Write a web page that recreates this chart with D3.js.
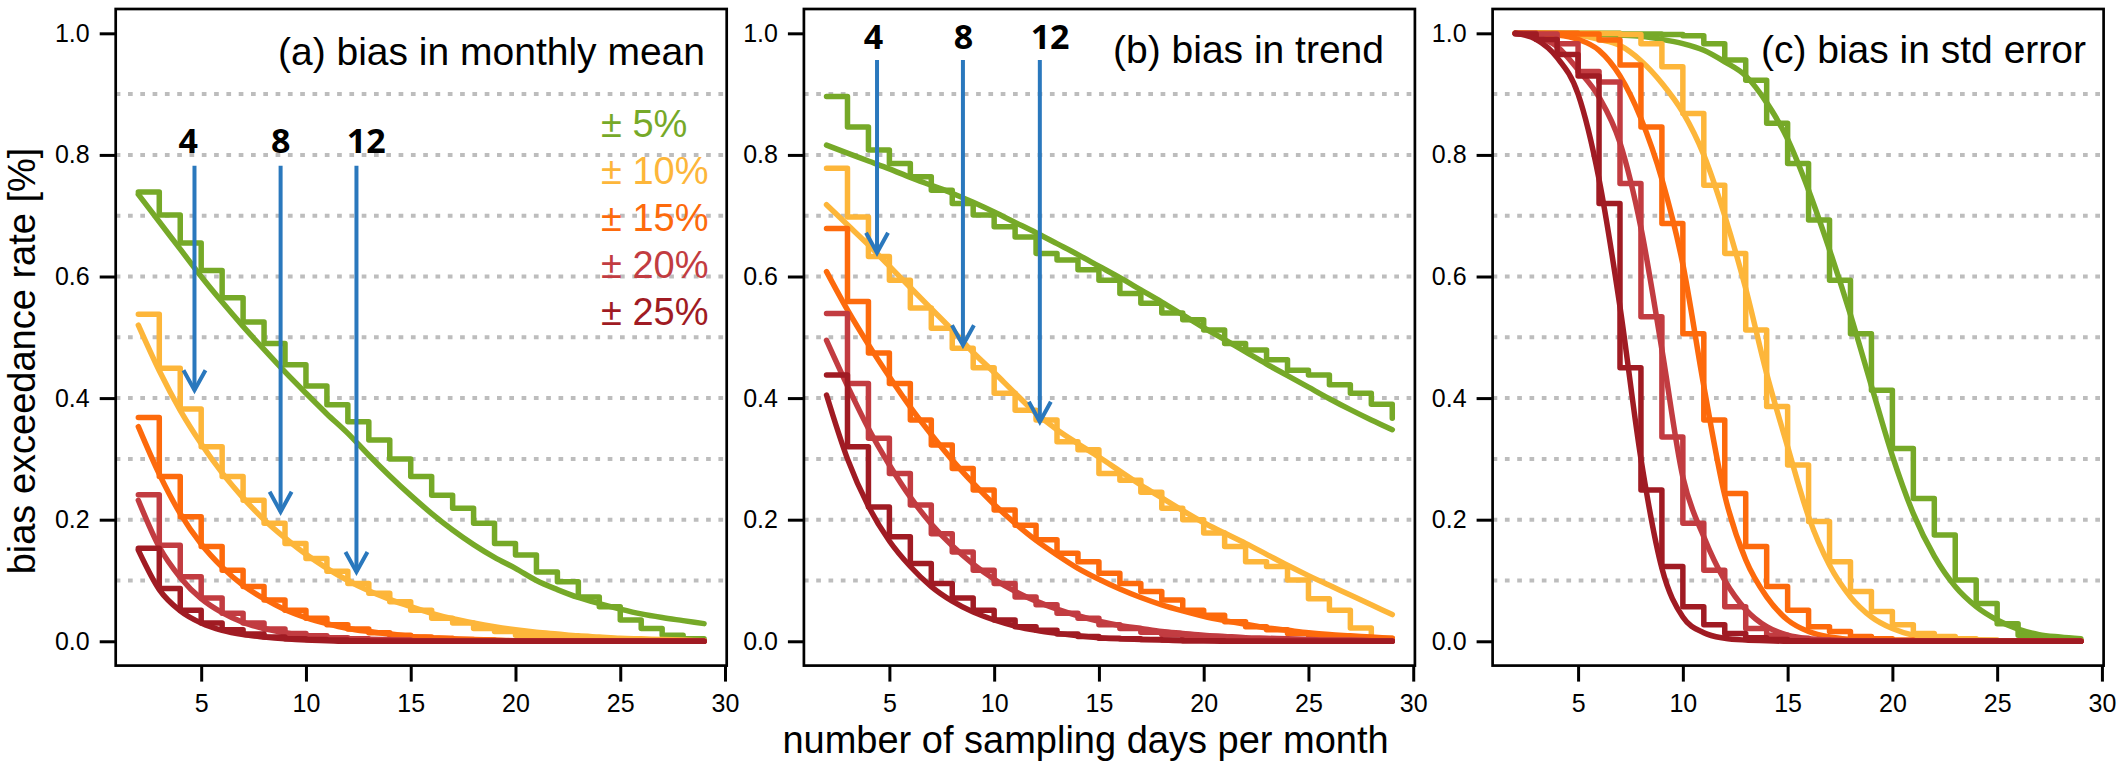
<!DOCTYPE html>
<html>
<head>
<meta charset="utf-8">
<script src="https://cdn.jsdelivr.net/npm/d3@7"></script>
<style>
  body { margin: 0; background: #fff; }
  svg { display: block; }
</style>
</head>
<body>
<svg id="chart"></svg>
<script>
// sampling days and thresholds
const days = [2, 3, 4, 5, 6, 7, 8, 9, 10, 11, 12, 13, 14, 15, 16, 17, 18, 19, 20, 21, 22, 23, 24, 25, 26, 27, 28, 29];
const bands = ['± 5%', '± 10%', '± 15%', '± 20%', '± 25%'];
const panelTitles = ['(a) bias in monthly mean', '(b) bias in trend', '(c) bias in std error'];
const yTicks = [0, 0.2, 0.4, 0.6, 0.8, 1.0];
const xTicks = [5, 10, 15, 20, 25, 30];
const gridLevels = [0.1, 0.2, 0.3, 0.4, 0.5, 0.6, 0.7, 0.8, 0.9];

// (a) monthly mean: empirical steps and fitted curves, one row per band
const meanStep = [
  [0.739, 0.701, 0.655, 0.61, 0.565, 0.525, 0.49, 0.455, 0.42, 0.389, 0.361, 0.331, 0.30, 0.271, 0.24, 0.219, 0.194, 0.161, 0.142, 0.114, 0.098, 0.073, 0.057, 0.035, 0.021, 0.010, 0.004, 0.002],
  [0.538, 0.449, 0.382, 0.320, 0.271, 0.232, 0.194, 0.161, 0.136, 0.115, 0.095, 0.079, 0.065, 0.051, 0.038, 0.030, 0.021, 0.016, 0.010, 0.007, 0.005, 0.003, 0.002, 0.001, 0.001, 0, 0, 0],
  [0.368, 0.271, 0.205, 0.156, 0.117, 0.090, 0.068, 0.051, 0.038, 0.027, 0.020, 0.014, 0.010, 0.007, 0.005, 0.003, 0.002, 0.001, 0.001, 0, 0, 0, 0, 0, 0, 0, 0, 0],
  [0.241, 0.158, 0.106, 0.071, 0.046, 0.030, 0.020, 0.013, 0.009, 0.006, 0.004, 0.003, 0.002, 0.001, 0, 0, 0, 0, 0, 0, 0, 0, 0, 0, 0, 0, 0, 0],
  [0.153, 0.087, 0.051, 0.030, 0.019, 0.012, 0.007, 0.004, 0.003, 0.002, 0.001, 0, 0, 0, 0, 0, 0, 0, 0, 0, 0, 0, 0, 0, 0, 0, 0, 0]
];
const meanFit = [
  [0.735, 0.69, 0.645, 0.60, 0.558, 0.518, 0.48, 0.443, 0.408, 0.374, 0.342, 0.306, 0.272, 0.24, 0.21, 0.183, 0.159, 0.138, 0.12, 0.10, 0.085, 0.072, 0.062, 0.053, 0.045, 0.039, 0.034, 0.029],
  [0.52, 0.445, 0.38, 0.325, 0.277, 0.236, 0.20, 0.17, 0.143, 0.12, 0.10, 0.083, 0.069, 0.057, 0.046, 0.037, 0.030, 0.024, 0.019, 0.015, 0.012, 0.009, 0.007, 0.005, 0.004, 0.003, 0.002, 0.001],
  [0.353, 0.275, 0.21, 0.16, 0.122, 0.092, 0.07, 0.052, 0.039, 0.029, 0.021, 0.016, 0.012, 0.008, 0.006, 0.004, 0.003, 0.002, 0.001, 0.001, 0.001, 0, 0, 0, 0, 0, 0, 0],
  [0.232, 0.155, 0.105, 0.07, 0.047, 0.031, 0.021, 0.014, 0.009, 0.006, 0.004, 0.003, 0.002, 0.001, 0.001, 0, 0, 0, 0, 0, 0, 0, 0, 0, 0, 0, 0, 0],
  [0.15, 0.085, 0.05, 0.03, 0.018, 0.011, 0.007, 0.004, 0.002, 0.001, 0, 0, 0, 0, 0, 0, 0, 0, 0, 0, 0, 0, 0, 0, 0, 0, 0, 0]
];

// (b) trend
const trendStep = [
  [0.896, 0.846, 0.808, 0.786, 0.764, 0.742, 0.72, 0.701, 0.682, 0.665, 0.638, 0.627, 0.611, 0.594, 0.572, 0.556, 0.54, 0.529, 0.512, 0.49, 0.479, 0.463, 0.446, 0.438, 0.422, 0.408, 0.39, 0.367],
  [0.778, 0.698, 0.633, 0.594, 0.548, 0.515, 0.482, 0.45, 0.408, 0.38, 0.364, 0.328, 0.315, 0.276, 0.265, 0.245, 0.219, 0.20, 0.178, 0.156, 0.131, 0.123, 0.101, 0.07, 0.051, 0.022, 0.005, 0.003],
  [0.679, 0.559, 0.474, 0.424, 0.364, 0.323, 0.284, 0.249, 0.216, 0.191, 0.167, 0.145, 0.131, 0.112, 0.095, 0.082, 0.068, 0.051, 0.043, 0.032, 0.024, 0.019, 0.013, 0.010, 0.007, 0.005, 0.004, 0.003],
  [0.539, 0.424, 0.334, 0.276, 0.224, 0.177, 0.147, 0.117, 0.095, 0.073, 0.06, 0.046, 0.038, 0.027, 0.021, 0.015, 0.011, 0.008, 0.006, 0.004, 0.003, 0.002, 0.002, 0.001, 0.001, 0, 0, 0],
  [0.438, 0.32, 0.221, 0.172, 0.128, 0.095, 0.071, 0.051, 0.035, 0.024, 0.018, 0.012, 0.008, 0.005, 0.004, 0.003, 0.002, 0.001, 0.001, 0, 0, 0, 0, 0, 0, 0, 0, 0]
];
const trendFit = [
  [0.816, 0.803, 0.79, 0.777, 0.763, 0.75, 0.737, 0.722, 0.706, 0.689, 0.672, 0.654, 0.636, 0.617, 0.598, 0.578, 0.558, 0.537, 0.516, 0.496, 0.476, 0.456, 0.437, 0.418, 0.399, 0.381, 0.364, 0.348],
  [0.718, 0.685, 0.652, 0.617, 0.582, 0.547, 0.512, 0.475, 0.442, 0.408, 0.375, 0.348, 0.325, 0.303, 0.28, 0.257, 0.236, 0.215, 0.195, 0.178, 0.161, 0.143, 0.125, 0.108, 0.092, 0.076, 0.06, 0.044],
  [0.608, 0.545, 0.488, 0.435, 0.385, 0.34, 0.298, 0.26, 0.225, 0.194, 0.166, 0.142, 0.12, 0.102, 0.086, 0.072, 0.06, 0.05, 0.041, 0.034, 0.028, 0.022, 0.018, 0.014, 0.011, 0.009, 0.007, 0.005],
  [0.495, 0.42, 0.35, 0.29, 0.237, 0.193, 0.157, 0.127, 0.102, 0.082, 0.066, 0.053, 0.042, 0.033, 0.026, 0.021, 0.016, 0.013, 0.01, 0.008, 0.006, 0.005, 0.004, 0.003, 0.002, 0.002, 0.001, 0.001],
  [0.405, 0.30, 0.222, 0.165, 0.123, 0.09, 0.066, 0.048, 0.035, 0.025, 0.018, 0.013, 0.009, 0.006, 0.004, 0.003, 0.002, 0.001, 0.001, 0, 0, 0, 0, 0, 0, 0, 0, 0]
];

// (c) std error
const stdStep = [
  [1, 1, 1, 1, 1, 0.999, 0.999, 0.998, 0.996, 0.983, 0.956, 0.923, 0.852, 0.786, 0.693, 0.594, 0.506, 0.413, 0.317, 0.235, 0.175, 0.101, 0.062, 0.029, 0.010, 0.004, 0.001, 0],
  [1, 1, 1, 1, 0.9995, 0.998, 0.983, 0.945, 0.868, 0.75, 0.638, 0.512, 0.386, 0.29, 0.197, 0.131, 0.082, 0.049, 0.027, 0.013, 0.008, 0.004, 0.002, 0.001, 0, 0, 0, 0],
  [1, 1, 1, 0.999, 0.989, 0.948, 0.846, 0.687, 0.506, 0.364, 0.243, 0.156, 0.09, 0.051, 0.024, 0.016, 0.008, 0.004, 0.002, 0.001, 0, 0, 0, 0, 0, 0, 0, 0],
  [1, 0.999, 0.983, 0.937, 0.92, 0.753, 0.534, 0.336, 0.194, 0.117, 0.057, 0.021, 0.010, 0.005, 0.002, 0.001, 0, 0, 0, 0, 0, 0, 0, 0, 0, 0, 0, 0],
  [0.999, 0.99, 0.965, 0.93, 0.72, 0.45, 0.249, 0.123, 0.057, 0.027, 0.013, 0.006, 0.003, 0.001, 0, 0, 0, 0, 0, 0, 0, 0, 0, 0, 0, 0, 0, 0]
];
const stdFit = [
  [1, 1, 0.9995, 0.999, 0.998, 0.997, 0.995, 0.99, 0.983, 0.972, 0.953, 0.93, 0.886, 0.826, 0.742, 0.644, 0.537, 0.42, 0.305, 0.21, 0.14, 0.09, 0.057, 0.035, 0.02, 0.011, 0.007, 0.004],
  [1, 0.9995, 0.999, 0.997, 0.99, 0.98, 0.955, 0.918, 0.87, 0.80, 0.70, 0.58, 0.44, 0.32, 0.205, 0.125, 0.073, 0.04, 0.021, 0.01, 0.005, 0.003, 0.002, 0.001, 0, 0, 0, 0],
  [1, 0.999, 0.997, 0.99, 0.972, 0.93, 0.86, 0.76, 0.62, 0.42, 0.24, 0.134, 0.073, 0.035, 0.016, 0.007, 0.003, 0.001, 0.001, 0, 0, 0, 0, 0, 0, 0, 0, 0],
  [1, 0.995, 0.978, 0.94, 0.895, 0.82, 0.68, 0.48, 0.27, 0.172, 0.10, 0.052, 0.024, 0.01, 0.004, 0.002, 0.001, 0, 0, 0, 0, 0, 0, 0, 0, 0, 0, 0],
  [1, 0.99, 0.96, 0.90, 0.76, 0.55, 0.30, 0.12, 0.04, 0.014, 0.005, 0.002, 0.001, 0, 0, 0, 0, 0, 0, 0, 0, 0, 0, 0, 0, 0, 0, 0]
];

// blue arrows marking 4, 8 and 12 sampling days
const arrowLabels = ['4', '8', '12'];
const meanArrowX = [4.68, 8.79, 12.41];
const meanArrowTip = [0.413, 0.213, 0.114];
const meanArrowTop = 0.782;
const meanLabelX = [4.38, 8.8, 12.88];
const meanLabelY = 0.803;
const trendArrowX = [4.41, 8.51, 12.18];
const trendArrowTip = [0.639, 0.487, 0.361];
const trendArrowTop = 0.956;
const trendLabelX = [4.24, 8.53, 12.67];
const trendLabelY = 0.975;

const colors = ['#76a928', '#fdb63a', '#fd6a0c', '#c23c41', '#a01b23'];
const arrowColor = '#2a78bd';
const font = "'Liberation Sans', Arial, sans-serif";

const width = 2121;
const height = 761;
const panelLeft = [115.7, 803.9, 1492.6];
const panelWidth = 611;
const plotTop = 9;
const plotBottom = 665.6;
const titleRight = [705, 1384, 2086];
const titleBase = [65, 63, 63];

const svg = d3.select('#chart')
  .attr('width', width)
  .attr('height', height)
  .attr('font-family', font);

const y = d3.scaleLinear().domain([-0.04, 1.04]).range([plotBottom, plotTop]);

const panels = [
  { step: meanStep, fit: meanFit, arrowX: meanArrowX, tip: meanArrowTip, top: meanArrowTop, labelX: meanLabelX, labelY: meanLabelY },
  { step: trendStep, fit: trendFit, arrowX: trendArrowX, tip: trendArrowTip, top: trendArrowTop, labelX: trendLabelX, labelY: trendLabelY },
  { step: stdStep, fit: stdFit }
];

panels.forEach((p, i) => {
  const x = d3.scaleLinear()
    .domain([0.92, 30.08])
    .range([panelLeft[i], panelLeft[i] + panelWidth]);
  const g = svg.append('g');

  // dotted grid
  g.append('g')
    .selectAll('line')
    .data(gridLevels)
    .join('line')
    .attr('x1', panelLeft[i])
    .attr('x2', panelLeft[i] + panelWidth)
    .attr('y1', d => y(d))
    .attr('y2', d => y(d))
    .attr('stroke', '#bdbdbd')
    .attr('stroke-width', 4)
    .attr('stroke-dasharray', '4.7,7.6');

  const stepLine = d3.line()
    .x((d, k) => x(days[k]))
    .y(d => y(d))
    .curve(d3.curveStepAfter);
  const fitLine = d3.line()
    .x((d, k) => x(days[k]))
    .y(d => y(d))
    .curve(d3.curveMonotoneX);

  bands.forEach((b, j) => {
    g.append('path')
      .attr('d', stepLine(p.step[j]))
      .attr('fill', 'none')
      .attr('stroke', colors[j])
      .attr('stroke-width', 5.5)
      .attr('stroke-linejoin', 'round')
      .attr('stroke-linecap', 'round');
    g.append('path')
      .attr('d', fitLine(p.fit[j]))
      .attr('fill', 'none')
      .attr('stroke', colors[j])
      .attr('stroke-width', 5.5)
      .attr('stroke-linecap', 'round');
  });

  // arrows
  if (p.arrowX) {
    p.arrowX.forEach((ax, k) => {
      const px = x(ax);
      const tipY = y(p.tip[k]);
      g.append('line')
        .attr('x1', px).attr('x2', px)
        .attr('y1', y(p.top)).attr('y2', tipY)
        .attr('stroke', arrowColor)
        .attr('stroke-width', 4);
      g.append('path')
        .attr('d', `M${px - 11},${tipY - 20}L${px},${tipY}L${px + 11},${tipY - 20}`)
        .attr('fill', 'none')
        .attr('stroke', arrowColor)
        .attr('stroke-width', 4);
      g.append('text')
        .attr('x', x(p.labelX[k]))
        .attr('y', y(p.labelY))
        .attr('text-anchor', 'middle')
        .attr('font-family', "'Open Sans', sans-serif")
        .attr('font-weight', 700)
        .attr('font-size', 34)
        .text(arrowLabels[k]);
    });
  }

  // box
  g.append('rect')
    .attr('x', panelLeft[i])
    .attr('y', plotTop)
    .attr('width', panelWidth)
    .attr('height', plotBottom - plotTop)
    .attr('fill', 'none')
    .attr('stroke', '#000')
    .attr('stroke-width', 2.7);

  // axes
  const yAxis = g.append('g')
    .attr('transform', `translate(${panelLeft[i]},0)`)
    .call(d3.axisLeft(y).tickValues(yTicks).tickFormat(d3.format('.1f')).tickSize(16).tickPadding(10));
  const xAxis = g.append('g')
    .attr('transform', `translate(0,${plotBottom})`)
    .call(d3.axisBottom(x).tickValues(xTicks).tickSize(16).tickPadding(13));
  [yAxis, xAxis].forEach(ax => {
    ax.select('.domain').remove();
    ax.selectAll('.tick line').attr('stroke-width', 3);
    ax.selectAll('.tick text')
      .attr('font-family', font)
      .attr('font-size', 25)
      .attr('fill', '#000');
  });

  g.append('text')
    .attr('x', titleRight[i])
    .attr('y', titleBase[i])
    .attr('text-anchor', 'end')
    .attr('font-size', 39)
    .text(panelTitles[i]);
});

// legend in panel (a)
svg.append('g')
  .selectAll('text')
  .data(bands)
  .join('text')
  .attr('x', 601)
  .attr('y', (d, j) => 137 + j * 47)
  .attr('font-size', 38)
  .attr('fill', (d, j) => colors[j])
  .text(d => d);

// axis titles
svg.append('text')
  .attr('transform', 'translate(35,361) rotate(-90)')
  .attr('text-anchor', 'middle')
  .attr('font-size', 38)
  .text('bias exceedance rate [%]');
svg.append('text')
  .attr('x', 1085.5)
  .attr('y', 752.8)
  .attr('text-anchor', 'middle')
  .attr('font-size', 38)
  .text('number of sampling days per month');
</script>
</body>
</html>
